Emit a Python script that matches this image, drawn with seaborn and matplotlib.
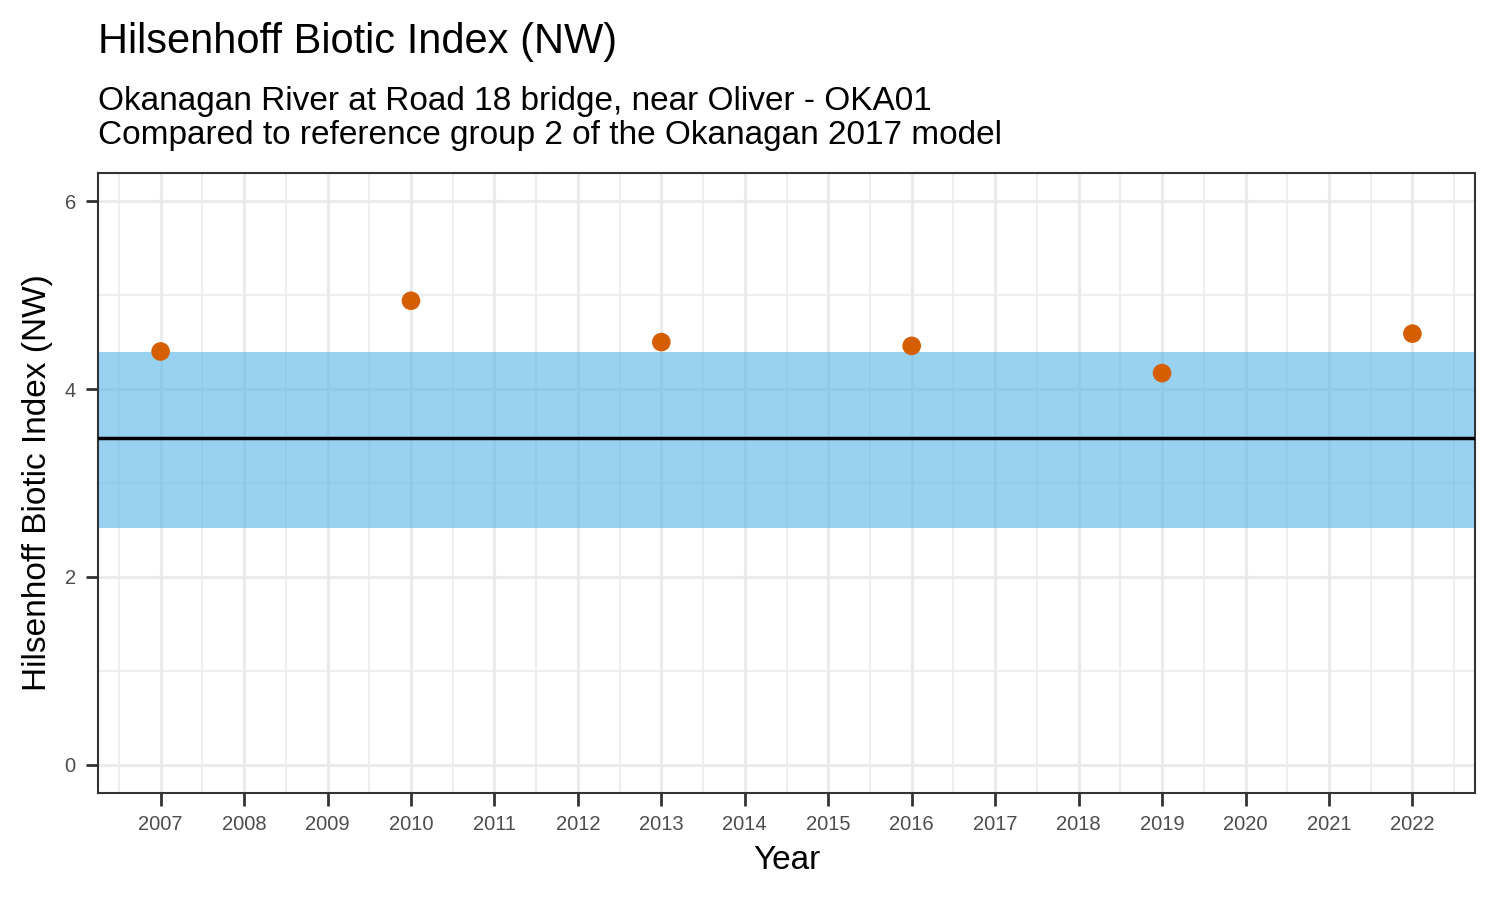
import numpy as np
import pandas as pd
import matplotlib
matplotlib.use('Agg')
import matplotlib.pyplot as plt
import seaborn as sns

# Data
years = [2007, 2010, 2013, 2016, 2019, 2022]
hbi_values = [4.40, 4.94, 4.50, 4.46, 4.17, 4.59]
ref_mean = 3.48
ref_low = 2.52
ref_high = 4.39
tick_years = list(range(2007, 2023))

df = pd.DataFrame({'Year': years, 'HBI': hbi_values})

sns.set_theme(style='ticks')
plt.rcParams['font.family'] = ['Liberation Sans', 'DejaVu Sans']
plt.rcParams['text.color'] = 'black'
plt.rcParams['axes.labelcolor'] = 'black'

fig = plt.figure(figsize=(15, 9), dpi=100)
ax = fig.add_axes([98 / 1500, 1 - 793 / 900, (1475 - 98) / 1500, (793 - 173) / 900])

# data range plus 5% padding like ggplot
ax.set_xlim(2006.25, 2022.75)
ax.set_ylim(-0.3, 6.3)

# grid lines like theme_bw
ax.set_xticks(tick_years)
ax.set_xticks([y - 0.5 for y in tick_years] + [tick_years[-1] + 0.5], minor=True)
ax.set_yticks([0, 2, 4, 6])
ax.set_yticks([1, 3, 5], minor=True)
ax.grid(which='major', color='#EBEBEB', linewidth=2.2)
ax.grid(which='minor', color='#EBEBEB', linewidth=1.2)
ax.set_axisbelow(True)

# reference band and mean line
ax.axhspan(ref_low, ref_high, color='#56B4E9', alpha=0.6, linewidth=0, zorder=2)
ax.axhline(ref_mean, color='black', linewidth=2.5, zorder=3)

sns.scatterplot(data=df, x='Year', y='HBI', ax=ax, color='#D55E00', s=180,
                edgecolor='none', zorder=4)

for s in ax.spines.values():
    s.set_visible(True)
    s.set_color('#333333')
    s.set_linewidth(1.5)

ax.tick_params(which='major', axis='both', direction='out', length=9, width=2,
               color='#333333', labelcolor='#4D4D4D', labelsize=14.5, pad=7,
               bottom=True, left=True, top=False, right=False)
ax.tick_params(which='minor', length=0)
ax.set_xticklabels([str(y) for y in tick_years])

ax.set_xlabel('Year', fontsize=24, color='black', labelpad=8)
ax.set_ylabel('Hilsenhoff Biotic Index (NW)', fontsize=24, color='black', labelpad=8)

fig.text(98 / 1500, 1 - 53 / 900, 'Hilsenhoff Biotic Index (NW)', fontsize=30,
         ha='left', va='baseline')
fig.text(98 / 1500, 1 - 110 / 900, 'Okanagan River at Road 18 bridge, near Oliver - OKA01',
         fontsize=24, ha='left', va='baseline')
fig.text(98 / 1500, 1 - 144 / 900, 'Compared to reference group 2 of the Okanagan 2017 model',
         fontsize=24, ha='left', va='baseline')

fig.savefig('out.png', dpi=100)
